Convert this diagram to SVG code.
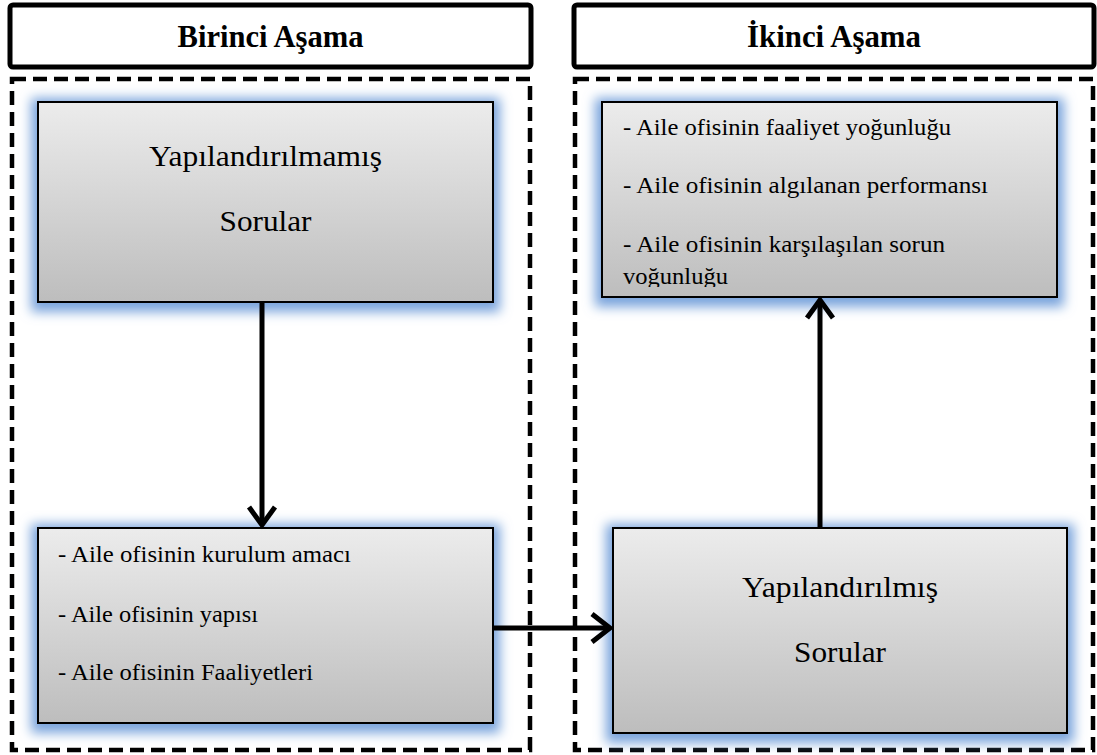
<svg xmlns="http://www.w3.org/2000/svg" width="1097" height="755" viewBox="0 0 1097 755">
<style>
.hdr{fill:#fff;stroke:#000;stroke-width:5}
.hdrt{font-family:"Liberation Serif",serif;font-weight:bold;font-size:31px;fill:#000;text-anchor:middle}
.dash{fill:none;stroke:#000;stroke-width:4.5;stroke-dasharray:14 7}
.box{fill:url(#g);stroke:#000;stroke-width:2}
.big{font-family:"Liberation Serif",serif;font-size:30px;fill:#000;text-anchor:middle}
.lst{font-family:"Liberation Serif",serif;font-size:23px;fill:#000}
.ln{fill:none;stroke:#000;stroke-width:5}
</style>
<defs>
<linearGradient id="g" x1="0" y1="0" x2="0" y2="1">
<stop offset="0" stop-color="#ececec"/>
<stop offset="1" stop-color="#bdbdbd"/>
</linearGradient>
<filter id="glow" x="-10%" y="-15%" width="120%" height="135%">
<feMorphology in="SourceAlpha" operator="dilate" radius="6" result="d"/>
<feOffset in="d" dy="3" result="o"/>
<feGaussianBlur in="o" stdDeviation="6" result="b"/>
<feFlood flood-color="#7aa4dc" flood-opacity="1"/>
<feComposite in2="b" operator="in" result="gl"/>
<feMerge><feMergeNode in="gl"/><feMergeNode in="SourceGraphic"/></feMerge>
</filter>
<clipPath id="c2"><rect x="602" y="102" width="455" height="185"/></clipPath>
</defs>
<g id="header-left"><rect class="hdr" x="10" y="5" width="521" height="62" rx="3"/><text class="hdrt" x="270.5" y="47" textLength="186" lengthAdjust="spacingAndGlyphs">Birinci Aşama</text></g>
<g id="header-right"><rect class="hdr" x="574" y="5" width="520" height="62" rx="3"/><text class="hdrt" x="834" y="47" textLength="174" lengthAdjust="spacingAndGlyphs">İkinci Aşama</text></g>
<g id="stage-left"><rect class="dash" x="12" y="79" width="518" height="671"/></g>
<g id="stage-right"><rect class="dash" x="575" y="79" width="518" height="671"/></g>
<g id="n-unstructured"><rect class="box" x="38" y="102" width="455" height="200" filter="url(#glow)"/>
<text class="big" x="265.5" y="166" textLength="233" lengthAdjust="spacingAndGlyphs">Yapılandırılmamış</text>
<text class="big" x="265.5" y="231" textLength="92" lengthAdjust="spacingAndGlyphs">Sorular</text></g>
<g id="n-topics1"><rect class="box" x="38" y="528" width="455" height="195" filter="url(#glow)"/>
<text class="lst" x="58" y="562" textLength="293" lengthAdjust="spacingAndGlyphs">- Aile ofisinin kurulum amacı</text>
<text class="lst" x="58" y="622" textLength="200" lengthAdjust="spacingAndGlyphs">- Aile ofisinin yapısı</text>
<text class="lst" x="58" y="680" textLength="255" lengthAdjust="spacingAndGlyphs">- Aile ofisinin Faaliyetleri</text></g>
<g id="n-structured"><rect class="box" x="613" y="528" width="454" height="205" filter="url(#glow)"/>
<text class="big" x="840" y="597" textLength="196" lengthAdjust="spacingAndGlyphs">Yapılandırılmış</text>
<text class="big" x="840" y="662" textLength="92" lengthAdjust="spacingAndGlyphs">Sorular</text></g>
<g id="n-topics2"><rect class="box" x="602" y="102" width="455" height="195" filter="url(#glow)"/>
<g clip-path="url(#c2)">
<text class="lst" x="623" y="135" textLength="328" lengthAdjust="spacingAndGlyphs">- Aile ofisinin faaliyet yoğunluğu</text>
<text class="lst" x="623" y="193" textLength="365" lengthAdjust="spacingAndGlyphs">- Aile ofisinin algılanan performansı</text>
<text class="lst" x="623" y="252" textLength="322" lengthAdjust="spacingAndGlyphs">- Aile ofisinin karşılaşılan sorun</text>
<text class="lst" x="623" y="284" textLength="105" lengthAdjust="spacingAndGlyphs">voğunluğu</text></g></g>
<g id="connectors">
<line class="ln" x1="262" y1="302" x2="262" y2="524"/>
<polyline class="ln" points="249,507 262,525 275,507"/>
<line class="ln" x1="493" y1="628" x2="609" y2="628"/>
<polyline class="ln" points="592,614 610,628 592,642"/>
<line class="ln" x1="820" y1="528" x2="820" y2="301"/>
<polyline class="ln" points="807,318 820,300 833,318"/>
</g>
</svg>
